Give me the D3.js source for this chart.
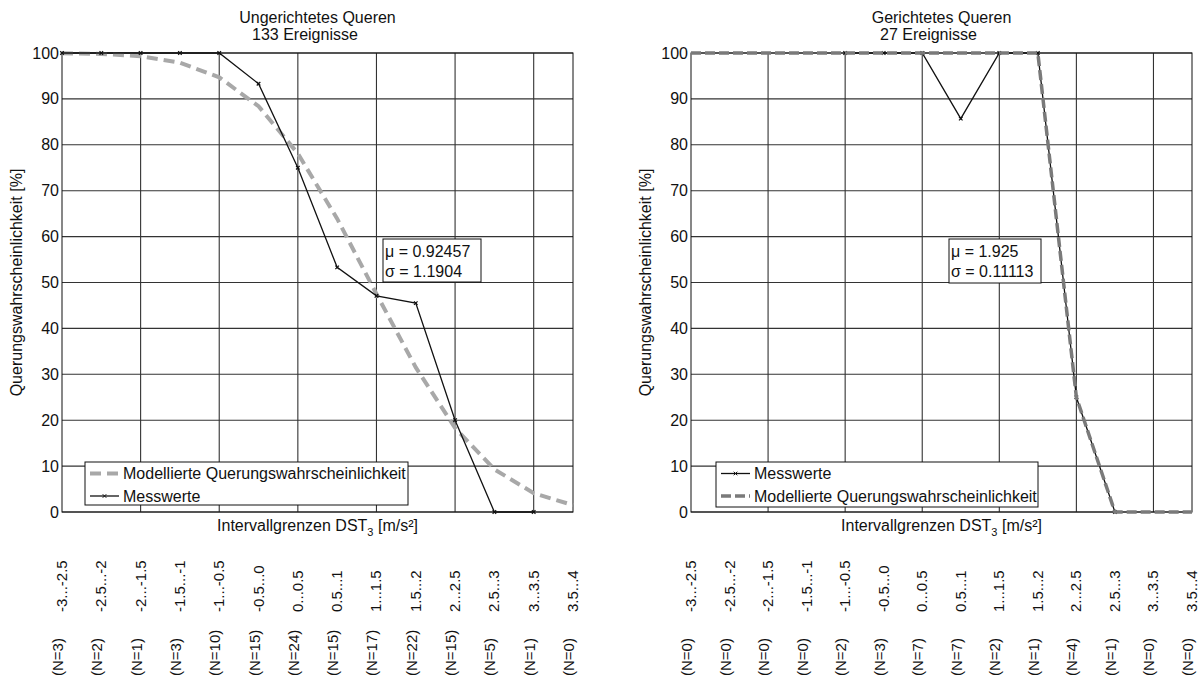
<!DOCTYPE html>
<html>
<head>
<meta charset="utf-8">
<script src="https://cdn.jsdelivr.net/npm/d3@7"></script>
<style>
body { margin: 0; background: #fff; }
text { font-family: "Liberation Sans", Arial, sans-serif; fill: #111; }
</style>
</head>
<body>
<svg id="chart" width="1204" height="679"></svg>
<script>
// interval labels under the x axis
var intervals = ["-3...-2.5", "-2.5...-2", "-2...-1.5", "-1.5...-1", "-1...-0.5", "-0.5...0",
                 "0...0.5", "0.5...1", "1...1.5", "1.5...2", "2...2.5", "2.5...3", "3...3.5", "3.5...4"];
var yTicks = [0, 10, 20, 30, 40, 50, 60, 70, 80, 90, 100];

// left panel: Ungerichtetes Queren
var leftN = [3, 2, 1, 3, 10, 15, 24, 15, 17, 22, 15, 5, 1, 0];
var leftMeasured = [100, 100, 100, 100, 100, 93.3, 75, 53.3, 47.1, 45.5, 20, 0, 0, null];
var leftModel = [99.95, 99.8, 99.3, 97.9, 94.7, 88.4, 78.1, 63.9, 47.5, 31.5, 18.3, 9.3, 4.1, 1.5];

// right panel: Gerichtetes Queren
var rightN = [0, 0, 0, 0, 2, 3, 7, 7, 2, 1, 4, 1, 0, 0];
var rightMeasured = [null, null, null, null, 100, 100, 100, 85.7, 100, 100, 25, 0, null, null];
var rightModel = [100, 100, 100, 100, 100, 100, 100, 100, 100, 99.99, 25, 0, 0, 0];

var svg = d3.select("#chart");

var yScale = d3.scaleLinear().domain([0, 100]).range([512, 53]);

function draw_panel(p) {
    var g = svg.append("g");
    var x = d3.scaleLinear().domain([0, intervals.length - 1]).range([p.x0, p.x1]);

    // grid
    g.selectAll(".hgrid").data(yTicks).enter().append("line")
        .attr("x1", p.x0).attr("x2", p.x1)
        .attr("y1", function(d) { return yScale(d); })
        .attr("y2", function(d) { return yScale(d); })
        .style("stroke", "#333").style("stroke-width", 1.1);
    var xGrid = d3.range(2, intervals.length, 2);
    g.selectAll(".vgrid").data(xGrid).enter().append("line")
        .attr("x1", function(d) { return x(d); })
        .attr("x2", function(d) { return x(d); })
        .attr("y1", yScale(0)).attr("y2", yScale(100))
        .style("stroke", "#333").style("stroke-width", 1.1);

    // frame
    g.append("rect")
        .attr("x", p.x0).attr("y", yScale(100))
        .attr("width", p.x1 - p.x0).attr("height", yScale(0) - yScale(100))
        .style("fill", "none").style("stroke", "#111").style("stroke-width", 1);

    // y tick labels
    g.selectAll(".ylab").data(yTicks).enter().append("text")
        .attr("x", p.x0 - 3)
        .attr("y", function(d) { return yScale(d) + 5.5; })
        .attr("text-anchor", "end")
        .style("font-size", "16px")
        .text(function(d) { return d; });

    var line = d3.line()
        .defined(function(d) { return d != null; })
        .x(function(d, i) { return x(i); })
        .y(function(d) { return yScale(d); });

    var model = g.append("path").datum(p.model)
        .attr("d", line)
        .style("fill", "none")
        .style("stroke", p.modelColor)
        .style("stroke-width", p.modelWidth)
        .style("stroke-dasharray", p.modelDash);

    var meas = g.append("path").datum(p.measured)
        .attr("d", line)
        .style("fill", "none")
        .style("stroke", "#111")
        .style("stroke-width", 1.3);

    var pts = p.measured.map(function(d, i) { return {i: i, v: d}; })
        .filter(function(d) { return d.v != null; });
    g.selectAll(".mk").data(pts).enter().append("path")
        .attr("d", d3.symbol().type(d3.symbolX).size(10))
        .attr("transform", function(d) { return "translate(" + x(d.i) + "," + yScale(d.v) + ")"; })
        .style("stroke", "#111").style("stroke-width", 1.2);

    // model line drawn on top in right panel
    if (p.modelOnTop) model.raise();

    // titles
    g.append("text").attr("x", (p.x0 + p.x1) / 2).attr("y", 22.5)
        .attr("text-anchor", "middle").style("font-size", "16px").text(p.title1);
    g.append("text").attr("x", p.title2x).attr("y", 39.5)
        .style("font-size", "16px").text(p.title2);

    // y label
    g.append("text")
        .attr("transform", "translate(" + (p.x0 - 40) + "," + ((yScale(0) + yScale(100)) / 2) + ") rotate(-90)")
        .attr("text-anchor", "middle").style("font-size", "16px")
        .text("Querungswahrscheinlichkeit [%]");

    // x label with subscript
    var xl = g.append("text").attr("x", (p.x0 + p.x1) / 2).attr("y", 531)
        .attr("text-anchor", "middle").style("font-size", "16px");
    xl.append("tspan").text("Intervallgrenzen DST");
    xl.append("tspan").attr("dy", 5).style("font-size", "11px").text("3");
    xl.append("tspan").attr("dy", -5).text(" [m/s²]");

    // rotated interval and count labels
    g.selectAll(".ilab").data(intervals).enter().append("text")
        .attr("transform", function(d, i) { return "translate(" + (x(i) + 5) + ",612) rotate(-90)"; })
        .style("font-size", "15px")
        .text(function(d) { return d; });
    g.selectAll(".nlab").data(p.counts).enter().append("text")
        .attr("transform", function(d, i) { return "translate(" + (x(i) + 1) + ",676) rotate(-90)"; })
        .style("font-size", "15px")
        .text(function(d) { return "(N=" + d + ")"; });

    // mu / sigma box
    g.append("rect")
        .attr("x", p.box[0]).attr("y", p.box[1]).attr("width", p.box[2]).attr("height", p.box[3])
        .style("fill", "#fff").style("stroke", "#111");
    g.append("text").attr("x", p.box[0] + 2).attr("y", p.box[1] + 17.5)
        .style("font-size", "16px").text("\u03bc = " + p.mu);
    g.append("text").attr("x", p.box[0] + 2).attr("y", p.box[1] + 37.5)
        .style("font-size", "16px").text("\u03c3 = " + p.sigma);

    // legend
    var lg = g.append("g");
    lg.append("rect")
        .attr("x", p.legend[0]).attr("y", p.legend[1]).attr("width", p.legend[2]).attr("height", p.legend[3])
        .style("fill", "#fff").style("stroke", "#111");
    p.legendItems.forEach(function(it, k) {
        var cy = p.legend[1] + 11.5 + k * 22.5;
        var lx0 = p.legend[0] + 5, lx1 = p.legend[0] + 34;
        if (it == "model") {
            lg.append("line").attr("x1", lx0).attr("x2", lx1).attr("y1", cy).attr("y2", cy)
                .style("stroke", p.modelColor).style("stroke-width", p.modelWidth)
                .style("stroke-dasharray", p.modelDash);
        } else {
            lg.append("line").attr("x1", lx0).attr("x2", lx1).attr("y1", cy).attr("y2", cy)
                .style("stroke", "#111").style("stroke-width", 1.3);
            lg.append("path").attr("d", d3.symbol().type(d3.symbolX).size(10))
                .attr("transform", "translate(" + ((lx0 + lx1) / 2) + "," + cy + ")")
                .style("stroke", "#111");
        }
        lg.append("text").attr("x", lx1 + 4).attr("y", cy + 5.5)
            .style("font-size", "16px")
            .text(it == "model" ? "Modellierte Querungswahrscheinlichkeit" : "Messwerte");
    });
}

draw_panel({
    x0: 62, x1: 573,
    title1: "Ungerichtetes Queren", title2: "133 Ereignisse", title2x: 252,
    measured: leftMeasured, model: leftModel, counts: leftN,
    modelColor: "#a8a8a8", modelWidth: 4, modelDash: "11,6", modelOnTop: false,
    box: [383, 239, 98, 43], mu: "0.92457", sigma: "1.1904",
    legend: [85, 462, 323, 43], legendItems: ["model", "meas"]
});

draw_panel({
    x0: 691, x1: 1192,
    title1: "Gerichtetes Queren", title2: "27 Ereignisse", title2x: 880,
    measured: rightMeasured, model: rightModel, counts: rightN,
    modelColor: "#7a7a7a", modelWidth: 3.5, modelDash: "10,4", modelOnTop: true,
    box: [949, 239, 92, 44], mu: "1.925", sigma: "0.11113",
    legend: [716, 462, 322, 45], legendItems: ["meas", "model"]
});
</script>
</body>
</html>
